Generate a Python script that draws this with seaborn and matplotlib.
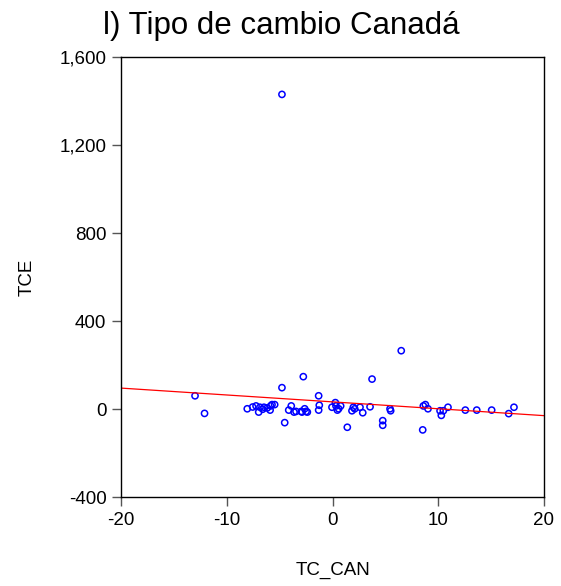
import numpy as np
import pandas as pd
import matplotlib
matplotlib.use("Agg")
import matplotlib.pyplot as plt
import seaborn as sns
from matplotlib.ticker import FuncFormatter

# Values
tc_can = [-13.0, -12.1, -8.06, -7.55, -7.23, -6.98, -6.86, -6.6, -6.48, -6.17,
          -5.9, -5.85, -5.72, -5.47, -4.78, -4.52, -4.78, -4.14, -3.9, -3.64,
          -3.45, -2.76, -2.95, -2.88, -2.63, -2.5, -2.38, -1.31, -1.25, -1.31,
          -0.05, 0.27, 0.33, 0.46, 0.58, 0.77, 1.4, 1.84, 1.97, 2.1,
          2.6, 2.86, 3.55, 3.74, 4.75, 4.75, 5.44, 5.5, 6.5, 8.53,
          8.59, 8.78, 9.03, 10.17, 10.29, 10.48, 10.92, 12.56, 13.64, 15.05,
          16.66, 17.16]
tce = [60, -20, 1, 9, 14, -14, 8, -1, 8, 5,
       -5, 14, 20, 20, 97, -62, 1430, -5, 14, -14,
       -11, 147, -11, -14, 1, -11, -14, 60, 17, -5,
       8, 29, 14, -5, 1, 14, -83, -8, 8, 1,
       8, -17, 10, 136, -53, -74, 1, -8, 265, -95,
       14, 20, 1, -8, -29, -8, 8, -5, -5, -5,
       -21, 8]

x_ticks = [-20, -10, 0, 10, 20]
y_ticks = [-400, 0, 400, 800, 1200, 1600]

df = pd.DataFrame({"TC_CAN": tc_can, "TCE": tce})

sns.set_theme(style="ticks")
plt.rcParams["font.family"] = ["Liberation Sans", "DejaVu Sans"]
plt.rcParams["axes.unicode_minus"] = False
plt.rcParams["text.color"] = "black"
plt.rcParams["axes.labelcolor"] = "black"
plt.rcParams["xtick.labelcolor"] = "black"
plt.rcParams["ytick.labelcolor"] = "black"

fig = plt.figure(figsize=(5.61, 5.86), dpi=100)
ax = fig.add_axes([121 / 561, 1 - 497 / 586, 423 / 561, 440 / 586])
ax.set_xlim(-20, 20)
ax.set_ylim(-400, 1600)

sns.regplot(data=df, x="TC_CAN", y="TCE", ax=ax, ci=None, truncate=False,
            scatter_kws=dict(s=20, facecolors="none", edgecolors="#0000ff", linewidths=1.1, alpha=1),
            line_kws=dict(color="#ff0000", linewidth=0.9))

ax.set_xlim(-20, 20)
ax.set_ylim(-400, 1600)
ax.set_xticks(x_ticks)
ax.set_yticks(y_ticks)
ax.yaxis.set_major_formatter(FuncFormatter(lambda v, p: f"{int(v):,}"))
ax.tick_params(axis="both", labelsize=13.5, length=6.5, width=1, color="#555555",
               direction="out", pad=4)

for sp in ax.spines.values():
    sp.set_visible(True)
    sp.set_color("black")
    sp.set_linewidth(1.0)

ax.set_xlabel("TC_CAN", fontsize=13.5)
ax.set_ylabel("TCE", fontsize=13.5)
ax.xaxis.set_label_coords(0.5, -0.148)
ax.yaxis.set_label_coords(-0.203, 0.5)

fig.text(281 / 561, 1 - 26 / 586, "l) Tipo de cambio Canadá", fontsize=22.5,
         ha="center", va="center")

fig.savefig("out.png", dpi=100, facecolor="white")
